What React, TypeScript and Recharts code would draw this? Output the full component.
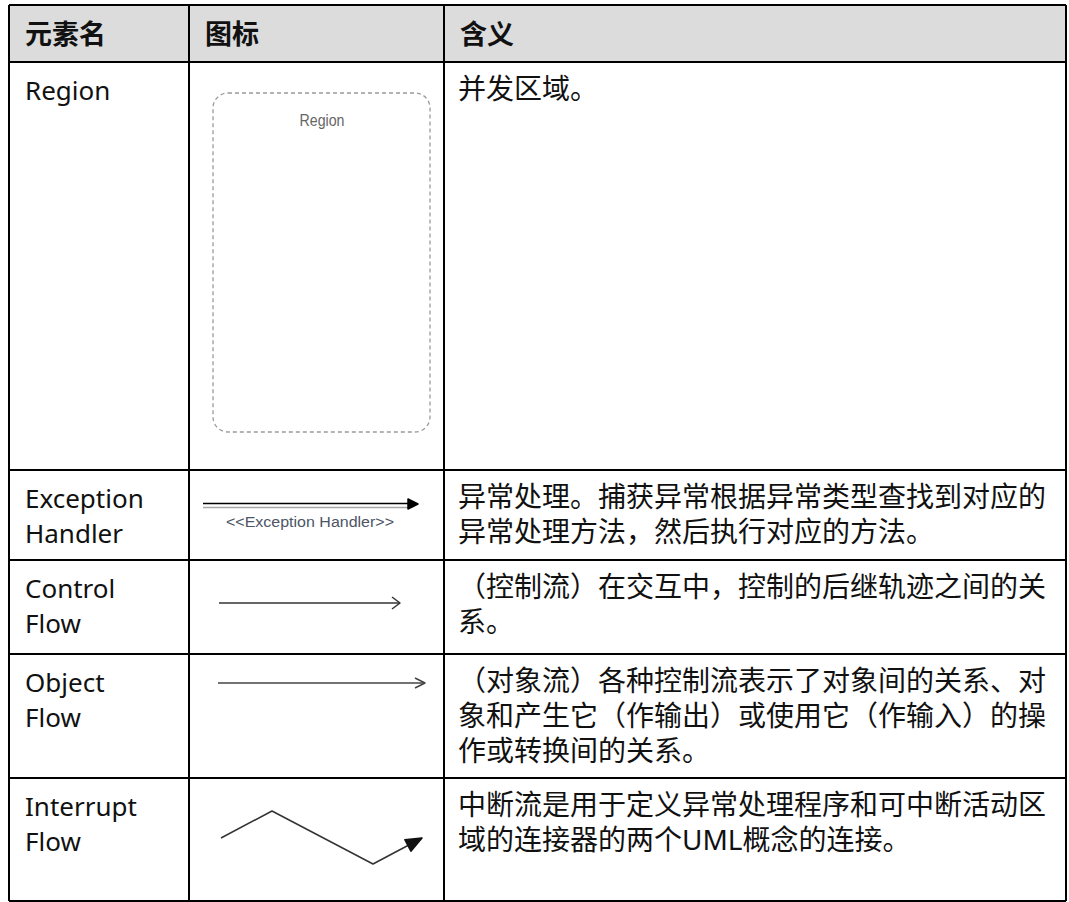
import React from 'react';
import { ComposedChart, XAxis, YAxis, Line, Scatter, ReferenceLine, ReferenceArea } from 'recharts';

const W = 1069;
const H = 902;

const headers = ['元素名', '图标', '含义'];
const elementNames = [
  ['Region'],
  ['Exception', 'Handler'],
  ['Control', 'Flow'],
  ['Object', 'Flow'],
  ['Interrupt', 'Flow'],
];
const meanings = [
  ['并发区域。'],
  ['异常处理。捕获异常根据异常类型查找到对应的', '异常处理方法，然后执行对应的方法。'],
  ['（控制流）在交互中，控制的后继轨迹之间的关', '系。'],
  ['（对象流）各种控制流表示了对象间的关系、对', '象和产生它（作输出）或使用它（作输入）的操', '作或转换间的关系。'],
  ['中断流是用于定义异常处理程序和可中断活动区', '域的连接器的两个UML概念的连接。'],
];
const iconCaptions = ['Region', '<<Exception Handler>>'];

// table grid, in page pixels
const colEdges = [9, 189, 444, 1066];
const rowEdges = [5, 62, 470, 560, 654, 778, 901];

// icon geometry
const regionBox = { x1: 213, x2: 430, y1: 93, y2: 432 };
const exceptionTop = [{ x: 203, y: 503.5 }, { x: 411, y: 503.5 }];
const exceptionBottom = [{ x: 203, y: 507.5 }, { x: 410, y: 507.5 }];
const exceptionTip = [{ x: 203, y: 504 }, { x: 418, y: 504 }];
const controlFlow = [{ x: 219, y: 603 }, { x: 400, y: 603 }];
const objectFlow = [{ x: 218, y: 683 }, { x: 425, y: 683 }];
const interruptFlow = [{ x: 221, y: 838 }, { x: 272, y: 811 }, { x: 373, y: 864 }, { x: 422, y: 838 }];

const FONT = "'Noto Sans', 'Noto Sans CJK SC', sans-serif";
const ICON_FONT = "'Liberation Sans', Arial, sans-serif";
const LH = 35;

const headStyles: Record<string, { len: number; half: number; filled: boolean; color: string }> = {
  exception: { len: 10, half: 5, filled: true, color: '#000' },
  control: { len: 8, half: 6, filled: false, color: '#333' },
  object: { len: 10, half: 5, filled: false, color: '#444' },
  interrupt: { len: 16, half: 6.5, filled: true, color: '#111' },
};

function headAt(pts: { x: number; y: number }[], kind: string) {
  const a = pts[pts.length - 2];
  const b = pts[pts.length - 1];
  return { x: b.x, y: b.y, angle: (Math.atan2(b.y - a.y, b.x - a.x) * 180) / Math.PI, kind };
}

const arrowHeads = [
  headAt(exceptionTip, 'exception'),
  headAt(controlFlow, 'control'),
  headAt(objectFlow, 'object'),
  headAt(interruptFlow, 'interrupt'),
];

type Label = {
  x: number;
  y: number;
  text: string;
  bold?: boolean;
  size: number;
  color?: string;
  anchor?: string;
  len?: number;
  font?: string;
};

const labels: Label[] = [];
headers.forEach((h, i) => labels.push({ x: colEdges[i] + 16, y: rowEdges[0] + 39, text: h, bold: true, size: 27 }));
elementNames.forEach((lines, r) =>
  lines.forEach((t, k) => labels.push({ x: colEdges[0] + 16, y: rowEdges[r + 1] + 38 + k * LH, text: t, size: 26 }))
);
meanings.forEach((lines, r) =>
  lines.forEach((t, k) => labels.push({ x: colEdges[2] + 14, y: rowEdges[r + 1] + 37 + k * LH, text: t, size: 28 }))
);
labels.push({ x: 322, y: 126, text: iconCaptions[0], size: 17, color: '#666', anchor: 'middle', len: 45, font: ICON_FONT });
labels.push({ x: 310, y: 527, text: iconCaptions[1], size: 14, color: '#4d5566', anchor: 'middle', len: 168, font: ICON_FONT });

const gridLines = [
  ...colEdges.map((x) => [{ x, y: rowEdges[0] }, { x, y: rowEdges[rowEdges.length - 1] }]),
  ...rowEdges.map((y) => [{ x: colEdges[0], y }, { x: colEdges[colEdges.length - 1], y }]),
];

const TextShape = (props: any) => {
  const { cx, cy, payload } = props;
  const p = payload as Label;
  return (
    <text
      x={cx}
      y={cy}
      fontFamily={p.font || FONT}
      fontSize={p.size}
      fontWeight={p.bold ? 700 : 400}
      fill={p.color || '#111'}
      textAnchor={p.anchor || 'start'}
      textLength={p.len}
      lengthAdjust={p.len ? 'spacingAndGlyphs' : undefined}
    >
      {p.text}
    </text>
  );
};

const HeadShape = (props: any) => {
  const { cx, cy, payload } = props;
  const s = headStyles[payload.kind];
  const d = s.filled
    ? `M0 0 L${-s.len} ${-s.half} L${-s.len} ${s.half} Z`
    : `M${-s.len} ${-s.half} L0 0 L${-s.len} ${s.half}`;
  return (
    <path
      d={d}
      transform={`translate(${cx},${cy}) rotate(${payload.angle})`}
      fill={s.filled ? s.color : 'none'}
      stroke={s.color}
      strokeWidth={1.5}
      strokeLinejoin="round"
    />
  );
};

export default function App() {
  return (
    <div style={{ position: 'absolute', left: 0, top: 0, background: '#fff' }}>
      <ComposedChart width={W} height={H} margin={{ top: 0, right: 0, bottom: 0, left: 0 }}>
        <XAxis type="number" dataKey="x" domain={[0, W]} hide allowDataOverflow />
        <YAxis type="number" dataKey="y" domain={[0, H]} reversed hide allowDataOverflow />
        <ReferenceArea
          x1={colEdges[0]}
          x2={colEdges[colEdges.length - 1]}
          y1={rowEdges[0]}
          y2={rowEdges[1]}
          fill="#dcdcdc"
          fillOpacity={1}
          stroke="none"
        />
        <ReferenceArea
          {...regionBox}
          shape={(p: any) => (
            <rect
              x={p.x}
              y={p.y}
              width={p.width}
              height={p.height}
              rx={15}
              fill="none"
              stroke="#9a9a9a"
              strokeWidth={1.3}
              strokeDasharray="4 3"
            />
          )}
        />
        {gridLines.map((seg, i) => (
          <ReferenceLine key={i} segment={seg} stroke="#000" strokeWidth={2} />
        ))}
        <Line data={exceptionTop} dataKey="y" type="linear" stroke="#000" strokeWidth={1.6} dot={false} activeDot={false} isAnimationActive={false} />
        <Line data={exceptionBottom} dataKey="y" type="linear" stroke="#a8a8a8" strokeWidth={1.3} dot={false} activeDot={false} isAnimationActive={false} />
        <Line data={controlFlow} dataKey="y" type="linear" stroke="#333" strokeWidth={1.6} dot={false} activeDot={false} isAnimationActive={false} />
        <Line data={objectFlow} dataKey="y" type="linear" stroke="#444" strokeWidth={1.3} dot={false} activeDot={false} isAnimationActive={false} />
        <Line data={interruptFlow} dataKey="y" type="linear" stroke="#333" strokeWidth={1.5} strokeLinejoin="round" dot={false} activeDot={false} isAnimationActive={false} />
        <Scatter data={arrowHeads} shape={HeadShape} isAnimationActive={false} />
        <Scatter data={labels} shape={TextShape} isAnimationActive={false} />
      </ComposedChart>
    </div>
  );
}
